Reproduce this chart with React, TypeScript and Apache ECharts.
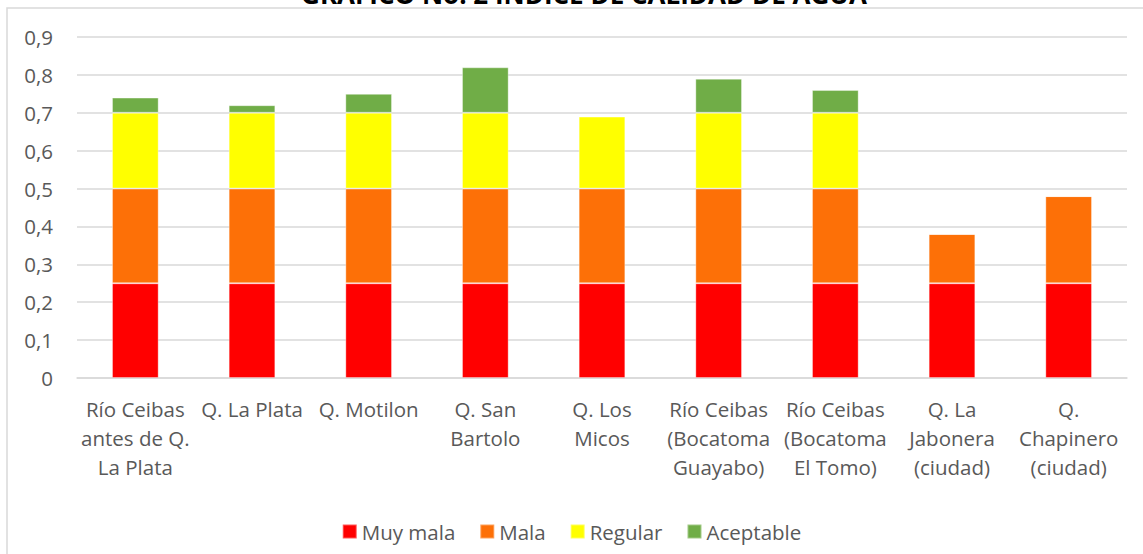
import React, { useEffect, useRef } from "react";
import * as echarts from "echarts";

const TITLE = "GRÁFICO No. 2 ÍNDICE DE CALIDAD DE AGUA";
const categories = [
  "Río Ceibas\nantes de Q.\nLa Plata",
  "Q. La Plata",
  "Q. Motilon",
  "Q. San\nBartolo",
  "Q. Los\nMicos",
  "Río Ceibas\n(Bocatoma\nGuayabo)",
  "Río Ceibas\n(Bocatoma\nEl Tomo)",
  "Q. La\nJabonera\n(ciudad)",
  "Q.\nChapinero\n(ciudad)",
];
const muyMala = [0.25, 0.25, 0.25, 0.25, 0.25, 0.25, 0.25, 0.25, 0.25];
const mala = [0.25, 0.25, 0.25, 0.25, 0.25, 0.25, 0.25, 0.13, 0.23];
const regular = [0.2, 0.2, 0.2, 0.2, 0.19, 0.2, 0.2, 0, 0];
const aceptable = [0.04, 0.02, 0.05, 0.12, 0, 0.09, 0.06, 0, 0];
const yTicks = [0, 0.1, 0.2, 0.3, 0.4, 0.5, 0.6, 0.7, 0.8, 0.9];

const FONT = "Open Sans";
const TXT = "#595959";
const FS = 20.5;

export default function App() {
  const ref = useRef<HTMLDivElement>(null);
  useEffect(() => {
    const chart = echarts.init(ref.current!, null, { renderer: "svg" });
    const mk = (name: string, data: number[], color: string) => ({
      name,
      type: "bar",
      stack: "t",
      data,
      barWidth: "40%",
      itemStyle: { color, borderColor: "rgba(255,255,255,0.35)", borderWidth: 1 },
    });
    chart.setOption({
      animation: false,
      textStyle: { fontFamily: FONT },
      grid: { left: 77, right: 16, top: 37, bottom: 176 },
      graphic: [
        {
          type: "rect",
          shape: { x: 7, y: 8, width: 1200, height: 600 },
          style: { fill: "none", stroke: "#d9d9d9", lineWidth: 1.5 },
          z: -1,
        },
        {
          type: "text",
          x: 584,
          y: 7,
          style: {
            text: TITLE,
            fontFamily: FONT,
            fontSize: 26,
            fontWeight: "bold",
            fill: "#000",
            textAlign: "center",
            textVerticalAlign: "bottom",
          },
        },
      ],
      legend: {
        bottom: 7,
        left: "center",
        itemWidth: 14,
        itemHeight: 14,
        itemGap: 24,
        icon: "rect",
        textStyle: { fontFamily: FONT, fontSize: FS, color: TXT },
        data: ["Muy mala", "Mala", "Regular", "Aceptable"],
      },
      xAxis: {
        type: "category",
        data: categories,
        axisLine: { lineStyle: { color: "#d9d9d9", width: 1.5 } },
        axisTick: { show: false },
        axisLabel: {
          interval: 0,
          margin: 16,
          fontFamily: FONT,
          fontSize: FS,
          lineHeight: 29,
          color: TXT,
        },
      },
      yAxis: {
        type: "value",
        min: 0,
        max: 0.9,
        interval: 0.1,
        axisLine: { show: false },
        axisTick: { show: false },
        splitLine: { lineStyle: { color: "#d9d9d9", width: 1.5 } },
        axisLabel: {
          margin: 24,
          fontFamily: FONT,
          fontSize: FS,
          color: TXT,
          formatter: (v: number) => {
            const t = yTicks.find((x) => Math.abs(x - v) < 1e-6);
            const val = t !== undefined ? t : v;
            return val === 0 ? "0" : val.toFixed(1).replace(".", ",");
          },
        },
      },
      series: [
        mk("Muy mala", muyMala, "#ff0000"),
        mk("Mala", mala, "#fd7007"),
        mk("Regular", regular, "#ffff00"),
        mk("Aceptable", aceptable, "#70ad47"),
      ],
    });
    return () => chart.dispose();
  }, []);
  return (
    <div
      ref={ref}
      style={{ position: "fixed", left: 0, top: 0, width: 1143, height: 554, background: "#fff" }}
    />
  );
}
